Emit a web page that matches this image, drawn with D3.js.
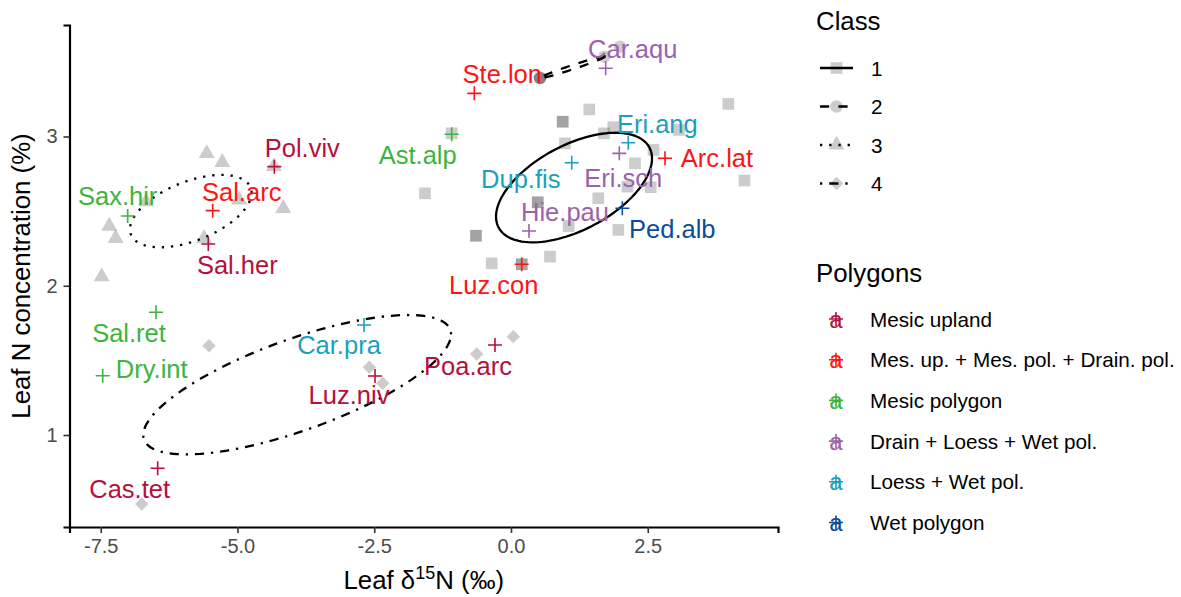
<!DOCTYPE html>
<html>
<head>
<meta charset="utf-8">
<script src="https://cdn.jsdelivr.net/npm/d3@7"></script>
<style>
  body { margin: 0; background: #fff; }
  svg { display: block; }
  text { font-family: "Liberation Sans", Arial, Helvetica, sans-serif; }
</style>
</head>
<body>
<svg id="chart" width="1181" height="597"></svg>
<script>
// ---------------- data ----------------
// Individual samples (grey symbols), by class
const pointClass = [
  "1","1","1","1","1","1","1","1","1","1","1","1","1","1","1","1","1","1","1","1","1","1","1","1","1","1",
  "2","2","2","2","2",
  "3","3","3","3","3","3","3","3","3","3",
  "4","4","4","4","4","4"
];
const pointX = [
  3.973, 1.431, 0.945, 0.945, 1.870, 1.700, 3.071, 0.987, 2.605, 2.267, 4.269, -1.572, 2.130,
  2.554, 1.596, 0.488, 0.488, 1.055, 1.962, -0.640, -0.640, -0.353, 0.196, 0.196, 0.713, -1.084,
  0.530, 0.530, 0.530, 1.706, 1.993,
  -5.563, -5.278, -6.673, -4.967, -4.163, -7.344, -7.227, -5.612, -7.483, -4.333,
  -5.521, -2.590, -2.346, -0.627, 0.042, -6.751
];
const pointY = [
  3.218, 3.181, 3.099, 3.099, 3.062, 3.021, 3.044, 2.954, 2.910, 2.820, 2.705, 2.619, 2.664,
  2.660, 2.586, 2.559, 2.559, 2.400, 2.374, 2.335, 2.335, 2.150, 2.144, 2.144, 2.195, 3.021,
  3.392, 3.392, 3.392, 3.535, 3.602,
  2.887, 2.827, 2.563, 2.575, 2.519, 2.400, 2.318, 2.318, 2.061, 2.799,
  1.598, 1.454, 1.346, 1.543, 1.659, 0.538
];

// Class ellipses: centre and covariance (data units)
const ellipseClass = ["1", "2", "3", "4"];
const ellipseCenterX = [1.152, 1.124, -5.854, -3.909];
const ellipseCenterY = [2.658, 3.464, 2.500, 1.337];
const ellipseVarX = [2.033, 0.353, 1.236, 7.916];
const ellipseVarY = [0.1348, 0.0054, 0.0588, 0.2181];
const ellipseCovXY = [0.278, 0.0428, 0.136, 0.948];

// Species means
const polygonGroups = [
  "Mesic upland",
  "Mes. up. + Mes. pol. + Drain. pol.",
  "Mesic polygon",
  "Drain + Loess + Wet pol.",
  "Loess + Wet pol.",
  "Wet polygon"
];
const speciesName = [
  "Pol.viv", "Sal.her", "Sal.arc", "Sax.hir", "Ast.alp", "Ste.lon", "Car.aqu", "Eri.ang",
  "Arc.lat", "Eri.sch", "Dup.fis", "Hie.pau", "Ped.alb", "Luz.con", "Sal.ret", "Dry.int",
  "Car.pra", "Luz.niv", "Poa.arc", "Cas.tet"
];
const speciesGroup = [
  "Mesic upland", "Mesic upland", "Mes. up. + Mes. pol. + Drain. pol.", "Mesic polygon",
  "Mesic polygon", "Mes. up. + Mes. pol. + Drain. pol.", "Drain + Loess + Wet pol.", "Loess + Wet pol.",
  "Mes. up. + Mes. pol. + Drain. pol.", "Drain + Loess + Wet pol.", "Loess + Wet pol.", "Drain + Loess + Wet pol.",
  "Wet polygon", "Mes. up. + Mes. pol. + Drain. pol.", "Mesic polygon", "Mesic polygon",
  "Loess + Wet pol.", "Mesic upland", "Mesic upland", "Mesic upland"
];
const speciesX = [
  -4.327, -5.534, -5.453, -7.007, -1.084, -0.671, 1.731, 2.144,
  2.815, 1.980, 1.110, 0.329, 2.035, 0.196, -6.490, -7.464,
  -2.687, -2.486, -0.293, -6.459
];
const speciesY = [
  2.798, 2.280, 2.503, 2.467, 3.015, 3.289, 3.457, 2.958,
  2.854, 2.887, 2.824, 2.367, 2.519, 2.144, 1.822, 1.397,
  1.737, 1.395, 1.603, 0.777
];

const xTicks = [-7.5, -5.0, -2.5, 0.0, 2.5];
const yTicks = [1, 2, 3];

// ---------------- styles & layout ----------------
const groupColor = {
  "Mesic upland": "#B5103C",
  "Mes. up. + Mes. pol. + Drain. pol.": "#FF1414",
  "Mesic polygon": "#3DB43D",
  "Drain + Loess + Wet pol.": "#9A62AA",
  "Loess + Wet pol.": "#1A9FBF",
  "Wet polygon": "#0C4D98"
};
const lineUnit = 2.3;
const classDash = {
  "1": null,
  "2": [4, 4].map(d => d * lineUnit).join(","),
  "3": [1, 3].map(d => d * lineUnit).join(","),
  "4": [1, 3, 4, 3].map(d => d * lineUnit).join(",")
};
const sq = 11.7, tri = 16, circ = 12.5, dia = 9.5;
const classShape = {
  "1": `M${-sq/2},${-sq/2}h${sq}v${sq}h${-sq}Z`,
  "2": d3.symbol(d3.symbolCircle, Math.PI * circ * circ / 4)(),
  "3": `M0,${-tri*0.577}L${tri/2},${tri*0.289}L${-tri/2},${tri*0.289}Z`,
  "4": `M0,${-dia*0.707}L${dia*0.707},0L0,${dia*0.707}L${-dia*0.707},0Z`
};
// label placement relative to each species mark (px)
const labelOffset = {
  "Pol.viv": [28, -19], "Sal.her": [29, 21], "Sal.arc": [29, -19], "Sax.hir": [-10, -20],
  "Ast.alp": [-34, 21], "Ste.lon": [28, -19], "Car.aqu": [27, -19], "Eri.ang": [29, -19],
  "Arc.lat": [52, 0], "Eri.sch": [4, 25], "Dup.fis": [-51, 16], "Hie.pau": [36, -19],
  "Ped.alb": [50, 21], "Luz.con": [-28, 21], "Sal.ret": [-27, 21], "Dry.int": [49, -7],
  "Car.pra": [-25, 20], "Luz.niv": [-26, 19], "Poa.arc": [-27, 21], "Cas.tet": [-28, 21]
};
const plusPath = "M-7,0H7M0,-7V7";

const svg = d3.select("#chart");
const x = d3.scaleLinear().domain([-8.071, 4.881]).range([69.5, 778]);
const y = d3.scaleLinear().domain([0.3836, 3.747]).range([527, 25]);

// ---------------- grey sample symbols ----------------
svg.append("g").selectAll("path")
  .data(d3.range(pointX.length))
  .join("path")
  .attr("d", i => classShape[pointClass[i]])
  .attr("transform", i => `translate(${x(pointX[i])},${y(pointY[i])})`)
  .attr("fill", "#000")
  .attr("fill-opacity", 0.2);

// ---------------- class ellipses ----------------
function ellipsePoints(i) {
  const l11 = Math.sqrt(ellipseVarX[i]);
  const l21 = ellipseCovXY[i] / l11;
  const l22 = Math.sqrt(Math.max(ellipseVarY[i] - l21 * l21, 0));
  return d3.range(0, 121).map(k => {
    const t = 2 * Math.PI * k / 120;
    return [ellipseCenterX[i] + l11 * Math.cos(t),
            ellipseCenterY[i] + l21 * Math.cos(t) + l22 * Math.sin(t)];
  });
}
const ellipseLine = d3.line().x(d => x(d[0])).y(d => y(d[1]));
svg.append("g").selectAll("path")
  .data(d3.range(ellipseClass.length))
  .join("path")
  .attr("d", i => ellipseLine(ellipsePoints(i)))
  .attr("fill", "none")
  .attr("stroke", "#000")
  .attr("stroke-width", lineUnit)
  .attr("stroke-dasharray", i => classDash[ellipseClass[i]]);

// ---------------- species marks & labels ----------------
svg.append("g").selectAll("path")
  .data(d3.range(speciesName.length))
  .join("path")
  .attr("d", plusPath)
  .attr("transform", i => `translate(${x(speciesX[i])},${y(speciesY[i])})`)
  .attr("stroke", i => groupColor[speciesGroup[i]])
  .attr("stroke-width", 1.6)
  .attr("fill", "none");

svg.append("g").selectAll("text")
  .data(d3.range(speciesName.length))
  .join("text")
  .attr("x", i => x(speciesX[i]) + labelOffset[speciesName[i]][0])
  .attr("y", i => y(speciesY[i]) + labelOffset[speciesName[i]][1])
  .attr("text-anchor", "middle")
  .attr("dominant-baseline", "central")
  .attr("font-size", 25.5)
  .attr("fill", i => groupColor[speciesGroup[i]])
  .text(i => speciesName[i]);

// ---------------- axes ----------------
const fmtX = v => d3.format(".1f")(v).replace("\u2212", "-");
const xAxis = svg.append("g")
  .attr("transform", `translate(0,${y.range()[0]})`)
  .call(d3.axisBottom(x).tickValues(xTicks).tickFormat(fmtX).tickSizeOuter(0).tickSize(6).tickPadding(6));
const yAxis = svg.append("g")
  .attr("transform", `translate(${x.range()[0]},0)`)
  .call(d3.axisLeft(y).tickValues(yTicks).tickFormat(d3.format("d")).tickSizeOuter(0).tickSize(6).tickPadding(6));
[xAxis, yAxis].forEach(a => {
  a.select(".domain").attr("stroke", "#000").attr("stroke-width", 2.2);
  a.selectAll(".tick line").attr("stroke", "#333").attr("stroke-width", 1.6);
  a.selectAll(".tick text").attr("fill", "#4D4D4D").attr("font-size", 20)
    .attr("font-family", "'Liberation Sans', Arial, sans-serif");
});

// axis titles
const xTitle = svg.append("text")
  .attr("x", (x.range()[0] + x.range()[1]) / 2)
  .attr("y", 589)
  .attr("text-anchor", "middle")
  .attr("font-size", 25.8)
  .attr("fill", "#000");
xTitle.append("tspan").text("Leaf δ");
xTitle.append("tspan").attr("font-size", 18).attr("dy", -10).text("15");
xTitle.append("tspan").attr("dy", 10).text("N (‰)");

svg.append("text")
  .attr("transform", `translate(30,${(y.range()[0] + y.range()[1]) / 2}) rotate(-90)`)
  .attr("text-anchor", "middle")
  .attr("font-size", 25.8)
  .attr("fill", "#000")
  .text("Leaf N concentration (%)");

// ---------------- legends ----------------
const legClass = svg.append("g");
legClass.append("text").attr("x", 816).attr("y", 30).attr("font-size", 25.8).text("Class");
const classRowY = [68, 106.5, 145, 183.5];
ellipseClass.forEach((c, k) => {
  const cy = classRowY[k];
  legClass.append("path")
    .attr("d", classShape[c])
    .attr("transform", `translate(836.5,${cy})`)
    .attr("fill", "#000").attr("fill-opacity", 0.2);
  legClass.append("line")
    .attr("x1", 820).attr("x2", 853).attr("y1", cy).attr("y2", cy)
    .attr("stroke", "#000").attr("stroke-width", lineUnit)
    .attr("stroke-dasharray", classDash[c]);
  legClass.append("text")
    .attr("x", 871).attr("y", cy)
    .attr("dominant-baseline", "central")
    .attr("font-size", 20.7)
    .text(c);
});

const legPoly = svg.append("g");
legPoly.append("text").attr("x", 816).attr("y", 282).attr("font-size", 25.8).text("Polygons");
polygonGroups.forEach((g, k) => {
  const cy = 319 + k * 40.7;
  legPoly.append("text")
    .attr("x", 836).attr("y", cy)
    .attr("text-anchor", "middle")
    .attr("dominant-baseline", "central")
    .attr("font-size", 24)
    .attr("fill", groupColor[g])
    .text("a");
  legPoly.append("path")
    .attr("d", plusPath)
    .attr("transform", `translate(836,${cy})`)
    .attr("stroke", groupColor[g]).attr("stroke-width", 1.6).attr("fill", "none");
  legPoly.append("text")
    .attr("x", 870).attr("y", cy)
    .attr("dominant-baseline", "central")
    .attr("font-size", 20.7)
    .text(g);
});
</script>
</body>
</html>
